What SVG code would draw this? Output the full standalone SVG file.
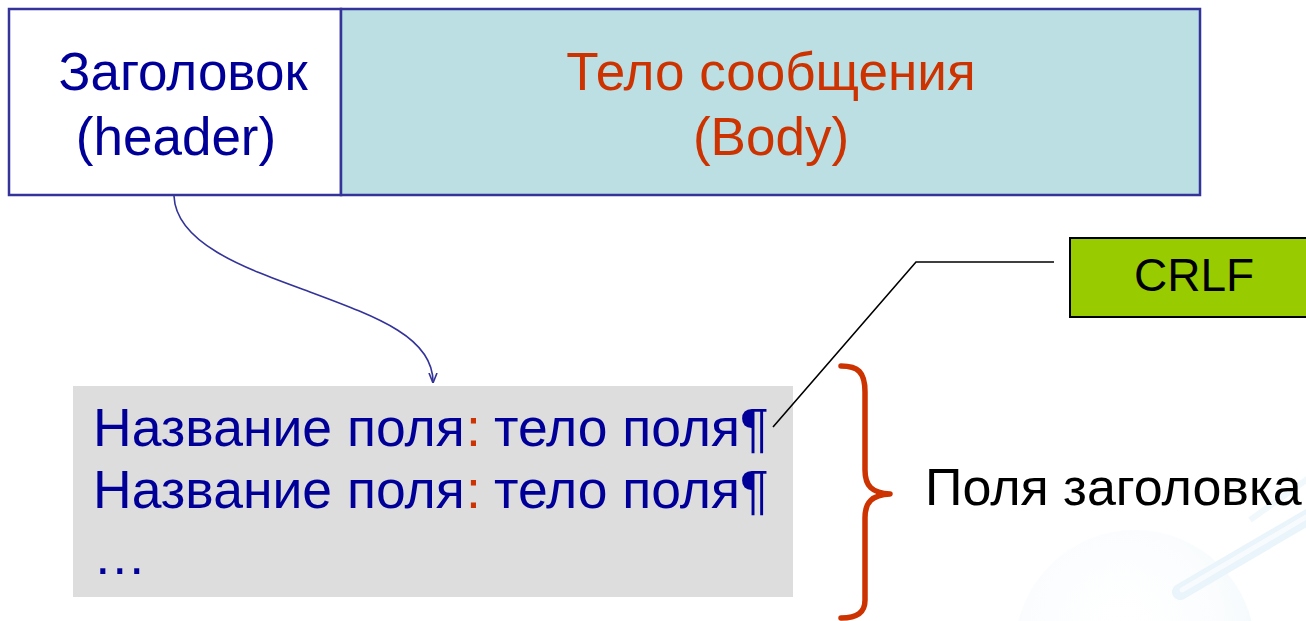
<svg xmlns="http://www.w3.org/2000/svg" width="1306" height="621" viewBox="0 0 1306 621">
  <defs>
    <style>
      .t { font-family: "Liberation Sans", Arial, sans-serif; }
      .blue { fill: #000099; }
      .red { fill: #CC3300; }
      .blk { fill: #000000; }
      .frame { stroke: #333399; stroke-width: 2.5; }
      .fld { font-size: 53.5px; }
    </style>
    <marker id="arr" viewBox="0 0 10 10" refX="9" refY="5" markerWidth="10" markerHeight="10" markerUnits="userSpaceOnUse" orient="auto">
      <path d="M0,1 L10,5 L0,9" fill="none" stroke="#333399" stroke-width="1.6"/>
    </marker>
    <radialGradient id="sph" cx="0.45" cy="0.4" r="0.6">
      <stop offset="0" stop-color="#FFFFFF" stop-opacity="0"/>
      <stop offset="0.75" stop-color="#EAF5FB" stop-opacity="0.5"/>
      <stop offset="1" stop-color="#DDEFF9" stop-opacity="0.7"/>
    </radialGradient>
  </defs>

  <rect width="1306" height="621" fill="#FFFFFF"/>

  <!-- faint background decoration -->
  <g id="background-decoration" opacity="0.55">
    <circle cx="1135" cy="650" r="120" fill="url(#sph)"/>
    <line x1="1180" y1="592" x2="1320" y2="510" stroke="#D8ECF8" stroke-width="16" stroke-linecap="round"/>
    <line x1="1182" y1="590" x2="1320" y2="509" stroke="#F2F9FD" stroke-width="5" stroke-linecap="round"/>
    <line x1="1250" y1="520" x2="1320" y2="470" stroke="#E6F3FA" stroke-width="6"/>
  </g>

  <g id="header-box">
    <rect x="9" y="9" width="332" height="186" fill="#FFFFFF" class="frame"/>
    <text class="t blue" x="183" y="90" font-size="53" text-anchor="middle">Заголовок</text>
    <text class="t blue" x="176" y="155" font-size="53" text-anchor="middle">(header)</text>
  </g>

  <g id="body-box">
    <rect x="341" y="9" width="859" height="186" fill="#BBDFE3" class="frame"/>
    <text class="t red" x="771" y="90" font-size="53" text-anchor="middle">Тело сообщения</text>
    <text class="t red" x="771" y="155" font-size="53" text-anchor="middle">(Body)</text>
  </g>

  <g id="fields-box">
    <rect x="73" y="386" width="720" height="211" fill="#DDDDDD"/>
    <text class="t blue fld" x="93" y="446">Название поля</text>
    <text class="t red fld" x="466" y="446">:</text>
    <text class="t blue fld" x="494" y="446">тело поля¶</text>
    <text class="t blue fld" x="93" y="508">Название поля</text>
    <text class="t red fld" x="466" y="508">:</text>
    <text class="t blue fld" x="494" y="508">тело поля¶</text>
    <text class="t blue fld" x="93" y="574">…</text>
  </g>

  <g id="crlf-box">
    <rect x="1070" y="238" width="250" height="79" fill="#99CC00" stroke="#000000" stroke-width="2"/>
    <text class="t blk" x="1194" y="291" font-size="46" text-anchor="middle">CRLF</text>
  </g>

  <g id="header-fields-label">
    <path d="M841,366 C858,366 865,372 865,392 L865,470 C865,486 872,493 890,494 C872,495 865,502 865,518 L865,600 C865,612 858,618 841,618" fill="none" stroke="#CC3300" stroke-width="5.5" stroke-linecap="round" stroke-linejoin="round"/>
    <text class="t blk" x="925" y="505" font-size="52">Поля заголовка</text>
  </g>

  <g id="connectors">
    <path d="M174,196 C176,245 250,270 310,292 C380,318 433,338 433,382" fill="none" stroke="#333399" stroke-width="1.6" marker-end="url(#arr)"/>
    <polyline points="1054,262 916,262 773,427" fill="none" stroke="#000000" stroke-width="1.6"/>
  </g>
</svg>
